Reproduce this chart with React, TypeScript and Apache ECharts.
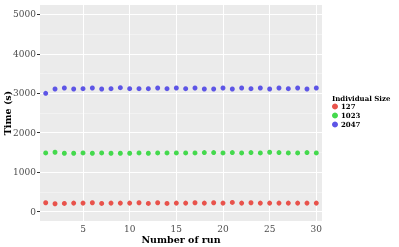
import React, { useEffect, useRef } from "react";
import * as echarts from "echarts";

const runs = [1,2,3,4,5,6,7,8,9,10,11,12,13,14,15,16,17,18,19,20,21,22,23,24,25,26,27,28,29,30];
const size127 = [222,197,205,214,214,222,205,214,214,214,222,205,222,205,214,214,222,214,222,214,231,214,222,214,214,214,214,214,214,214];
const size1023 = [1487,1504,1479,1479,1487,1479,1487,1479,1479,1479,1487,1479,1487,1487,1487,1487,1487,1496,1496,1487,1496,1487,1496,1487,1504,1496,1487,1487,1496,1487];
const size2047 = [3000,3109,3134,3109,3117,3134,3109,3117,3143,3117,3117,3117,3134,3117,3134,3117,3134,3109,3109,3134,3109,3134,3117,3134,3109,3134,3117,3134,3109,3134];
const seriesNames = ["127", "1023", "2047"];
const colors = ["#E8524B", "#44D94D", "#5D55E6"];
const yMajor = [0, 1000, 2000, 3000, 4000, 5000];
const yMinor = [500, 1500, 2500, 3500, 4500];
const xMajor = [5, 10, 15, 20, 25, 30];

const FONT = "DejaVu Serif";

export default function App() {
  const ref = useRef<HTMLDivElement>(null);
  useEffect(() => {
    const chart = echarts.init(ref.current!, null, { renderer: "svg" });
    const gridLines = {
      name: "grid",
      type: "line",
      data: [],
      silent: true,
      z: 1,
      markLine: {
        silent: true,
        symbol: "none",
        label: { show: false },
        animation: false,
        z: 1,
        data: [
          ...yMinor.map((v) => ({ yAxis: v, lineStyle: { color: "#F7F7F7", width: 0.6, type: "solid" } })),
          ...yMajor.map((v) => ({ yAxis: v, lineStyle: { color: "#FFFFFF", width: 1.1, type: "solid" } })),
          ...xMajor.map((v) => ({ xAxis: v, lineStyle: { color: "#FFFFFF", width: 1.1, type: "solid" } })),
        ],
      },
    };
    const data = [size127, size1023, size2047];
    chart.setOption({
      animation: false,
      title: {
        text: "Individual Size",
        left: 332,
        top: 95,
        textStyle: { fontFamily: FONT, fontSize: 7, fontWeight: "bold", color: "#000" },
        padding: 0,
      },
      legend: {
        data: seriesNames,
        orient: "vertical",
        left: 332,
        top: 103,
        padding: 0,
        itemWidth: 6,
        itemHeight: 6,
        itemGap: 2,
        icon: "circle",
        textStyle: { fontFamily: FONT, fontSize: 7, fontWeight: "bold", color: "#000", padding: [0, 0, 0, -2] },
      },
      grid: { left: 40, top: 5, width: 282, height: 216, backgroundColor: "#EBEBEB", show: true, borderWidth: 0, outerBoundsMode: "none", containLabel: false },
      xAxis: {
        type: "value",
        min: 0.39,
        max: 30.61,
        name: "Number of run",
        nameLocation: "middle",
        nameGap: 13,
        nameMoveOverlap: false,
        nameTextStyle: { fontFamily: FONT, fontSize: 9.5, fontWeight: "bold", color: "#000" },
        axisLine: { show: false },
        axisTick: { show: true, length: 3, lineStyle: { color: "#333" }, customValues: xMajor },
        axisLabel: { customValues: xMajor, fontFamily: FONT, fontSize: 9, color: "#4D4D4D", margin: 3, formatter: (v: number) => String(v) },
        splitLine: { show: false },
      },
      yAxis: {
        type: "value",
        min: -240,
        max: 5240,
        name: "Time (s)",
        nameLocation: "middle",
        nameRotate: 90,
        nameGap: 28,
        nameMoveOverlap: false,
        nameTextStyle: { fontFamily: FONT, fontSize: 9.5, fontWeight: "bold", color: "#000" },
        axisLine: { show: false },
        axisTick: { show: true, length: 3, lineStyle: { color: "#333" }, customValues: yMajor },
        axisLabel: { customValues: yMajor, fontFamily: FONT, fontSize: 9, color: "#4D4D4D", margin: 4, formatter: (v: number) => String(v) },
        splitLine: { show: false },
      },
      series: [
        gridLines,
        ...seriesNames.map((n, i) => ({
          name: n,
          type: "scatter",
          z: 3,
          symbolSize: 5,
          itemStyle: { color: colors[i], opacity: 1, borderWidth: 0 },
          data: runs.map((r, j) => [r, data[i][j]]),
        })),
      ],
    });
    return () => chart.dispose();
  }, []);
  return <div ref={ref} style={{ position: "fixed", left: 0, top: 0, width: 399, height: 247 }} />;
}
